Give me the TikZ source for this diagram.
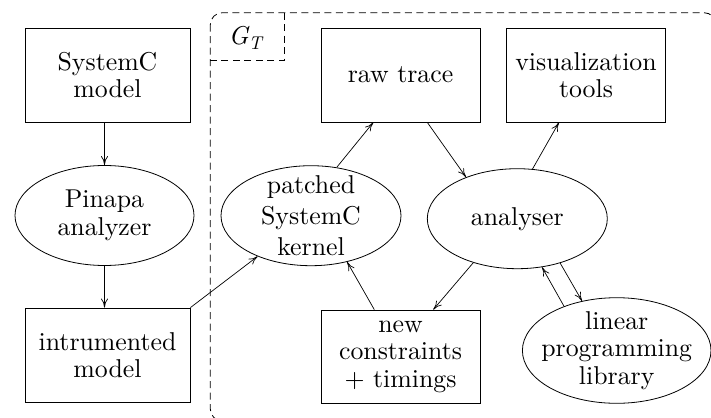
\documentclass[tikz,border=0pt]{standalone}
\usepackage{fontspec}
\setmainfont{lmroman10-regular.otf}[ItalicFont=lmroman10-italic.otf]
\usetikzlibrary{shapes.geometric,arrows.meta}
\tikzset{
  boxn/.style={draw, line width=0.8pt, rectangle, inner sep=0pt, align=center, minimum width=#1, minimum height=94pt},
  ell/.style={draw, line width=0.8pt, ellipse, inner sep=0pt},
  lbl/.style={align=center, inner sep=0pt},
  arr/.style={line width=0.7pt, -{To[length=9pt,width=7pt]}},
  dsh/.style={line width=0.8pt, dash pattern=on 7pt off 4.5pt},
}
\begin{document}
\begin{tikzpicture}[x=1pt,y=-1pt,font=\fontsize{25.8}{27.5}\selectfont]
\useasboundingbox (0,0) rectangle (711,417);
\clip (0,0) rectangle (711,417);
% group
\draw[dsh, rounded corners=12pt] (210.3,12.7) rectangle (716,421);
\coordinate (gtr) at (284.3,12.7);
\coordinate (gbl) at (210.3,60);
\draw[dsh] (gtr) |- (gbl);
\node[lbl] (gt) at (246,38) {\textit{G}\kern-1pt\raisebox{-5pt}{\fontsize{18.5}{19}\selectfont\textit{T}}};
% boxes
\node[boxn=165pt] (sysc) at (107.5,75) {SystemC\\model};
\node[boxn=165pt] (inst) at (107.5,355) {intrumented\\model};
\node[boxn=159pt] (raw) at (400.5,75) {raw trace};
\node[boxn=159pt] (vis) at (586,75) {visualization\\tools};
\node[boxn=159pt, minimum height=93pt] (nc) at (400.5,356.5) {new\\constraints\\+ timings};
% ellipses
\node[ell, minimum width=179pt, minimum height=100pt] (pin) at (104.5,215.5) {};
\node[lbl] (pinT) at (pin) {Pinapa\\analyzer};
\node[ell, minimum width=180pt, minimum height=100pt] (kern) at (311,215.7) {};
\node[lbl, font=\fontsize{25.8}{31}\selectfont] (kernT) at (kern) {patched\\SystemC\\kernel};
\node[ell, minimum width=180pt, minimum height=100pt] (ana) at (517.3,218.7) {};
\node[lbl] (anaT) at (ana) {analyser};
\node[ell, minimum width=188.6pt, minimum height=105.6pt] (lp) at (616.7,350.5) {};
\node[lbl] (lpT) at (lp) {linear\\programming\\library};
% edges
\draw[arr] (pin.north |- sysc.south) -- (pin.north);
\draw[arr] (pin.south) -- (pin.south |- inst.north);
\draw[arr] (inst.north east) -- (kern);
\draw[arr] (kern.62) -- ([xshift=-27.2pt]raw.south);
\draw[arr] ([xshift=26.8pt]raw.south) -- (ana.141);
\draw[arr] (ana.73) -- ([xshift=-27pt]vis.south);
\draw[arr] (ana.225) -- ([xshift=32.8pt]nc.north);
\draw[arr] ([xshift=-26.2pt]nc.north) -- (kern.308);
\draw[arr] (lp.140.5) -- (ana.297.7);
\draw[arr] (ana.314) -- (lp.125);
\end{tikzpicture}
\end{document}
